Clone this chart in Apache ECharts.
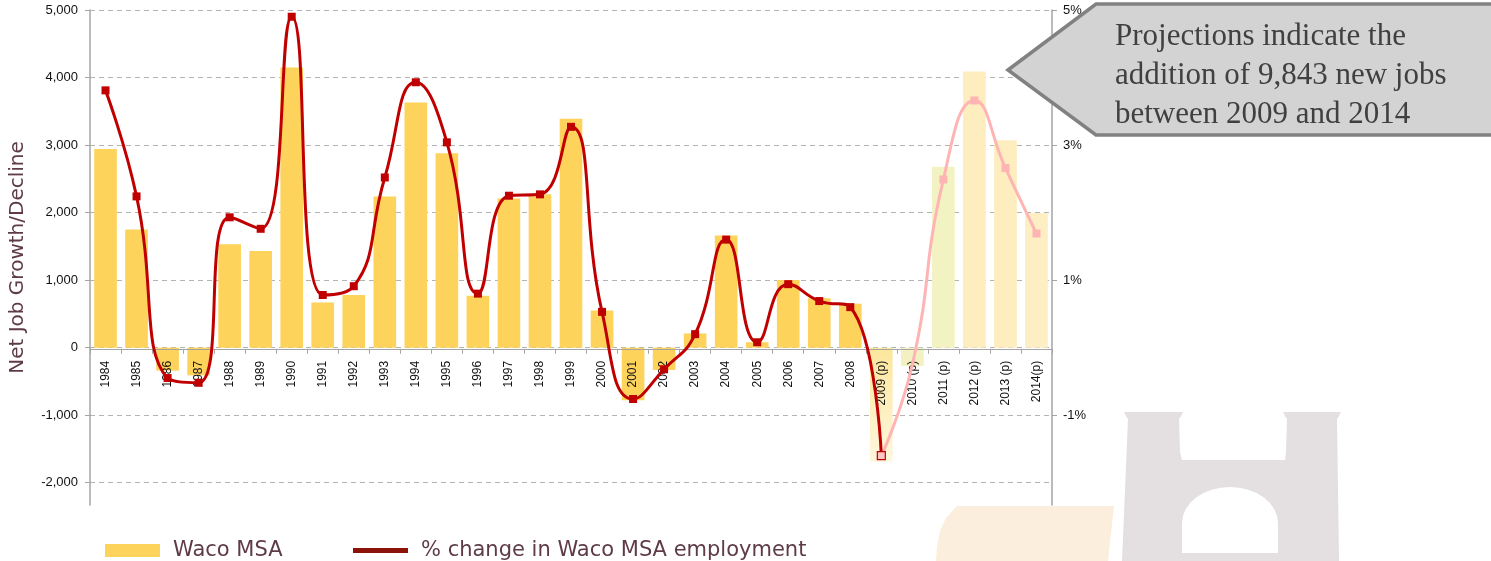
<!DOCTYPE html>
<html>
<head>
<meta charset="utf-8">
<title>Waco MSA net job growth</title>
<script src="https://cdn.jsdelivr.net/npm/echarts@6/dist/echarts.min.js"></script>
<style>
  html, body { margin: 0; padding: 0; background: #ffffff; }
  #chart { width: 1491px; height: 561px; }
</style>
</head>
<body>
<div id="chart"></div>
<script>
// Years on the category axis; "(p)" marks projected years
const years = ['1984', '1985', '1986', '1987', '1988', '1989', '1990', '1991', '1992', '1993',
  '1994', '1995', '1996', '1997', '1998', '1999', '2000', '2001', '2002', '2003',
  '2004', '2005', '2006', '2007', '2008', '2009 (p)', '2010 (p)', '2011 (p)', '2012 (p)', '2013 (p)', '2014(p)'];

// Net jobs added (or lost) in the Waco MSA each year
const netJobs = [2940, 1750, -340, -410, 1530, 1430, 4150, 670, 780, 2240,
  3630, 2880, 770, 2210, 2270, 3390, 550, -780, -330, 210,
  1660, 80, 1000, 730, 650, -1690, -270, 2680, 4090, 3070, 1995];

// Year-over-year % change in Waco MSA employment
const pctChange = [3.81, 2.24, -0.45, -0.52, 1.93, 1.76, 4.90, 0.78, 0.91, 2.52,
  3.93, 3.04, 0.80, 2.25, 2.27, 3.27, 0.53, -0.76, -0.32, 0.20,
  1.60, 0.08, 0.94, 0.69, 0.60, -1.60, -0.25, 2.49, 3.66, 2.66, 1.69];

// Tick values for the two vertical axes
const jobTicks = [-2000, -1000, 0, 1000, 2000, 3000, 4000, 5000];
const pctTicks = [-1, 1, 3, 5];
const jobRange = [-2330, 5000];
const pctRange = [-2.33, 5];

const calloutLines = ['Projections indicate the', 'addition of 9,843 new jobs', 'between 2009 and 2014'];

// ---- styling ----
const BAR = '#fed35c';
const RED = '#c00000';
const PINK = '#ffb4b4';
const AXIS = '#a5a5a5';
const TITLE_COLOR = '#5e3b46';

const firstProjected = years.indexOf('2009 (p)');
const projectedBarColors = {
  '2009 (p)': new echarts.graphic.LinearGradient(0, 0, 0, 1, [
    { offset: 0, color: '#fce69c' }, { offset: 1, color: '#fff7de' }
  ]),
  '2010 (p)': '#f3f1c1',
  '2011 (p)': '#f3f2c3',
  '2012 (p)': '#fdedbf',
  '2013 (p)': '#fdedbf',
  '2014(p)': '#fdeec3'
};
const unmarkedYears = ['2010 (p)'];

const barData = netJobs.map((v, i) => ({
  value: v,
  itemStyle: { color: projectedBarColors[years[i]] || BAR }
}));

const historyData = pctChange.map((v, i) => {
  if (i > firstProjected) return '-';
  if (i === firstProjected) {
    return { value: v, itemStyle: { color: '#ffc6c6', borderColor: RED, borderWidth: 1.2 } };
  }
  return v;
});

const projectedData = pctChange.map((v, i) => {
  if (i < firstProjected) return '-';
  const hide = i === firstProjected || unmarkedYears.includes(years[i]);
  return { value: v, symbol: hide ? 'none' : 'rect' };
});

// Outline points for the emblem's rounded arch opening
function archPoints(cx, baseY, rx, ry, sideY) {
  const pts = [[cx - rx, baseY], [cx - rx, sideY]];
  for (let k = 0; k <= 16; k++) {
    const t = Math.PI - (Math.PI * k) / 16;
    pts.push([cx + rx * Math.cos(t), sideY - ry * Math.sin(t)]);
  }
  pts.push([cx + rx, baseY]);
  return pts;
}

const chart = echarts.init(document.getElementById('chart'), null, { renderer: 'canvas' });

const fontSans = 'Liberation Sans, Arial, sans-serif';
const fontTitle = 'DejaVu Sans, sans-serif';
const legendText = { fontFamily: fontTitle, fontSize: 21, color: TITLE_COLOR, padding: [0, 0, 0, 8] };

chart.setOption({
  animation: false,
  backgroundColor: '#ffffff',
  grid: { left: 83, right: 439, top: 10, bottom: 56, containLabel: false },
  legend: [
    {
      left: 100, top: 535,
      itemWidth: 55, itemHeight: 13,
      data: [{ name: 'Waco MSA', icon: 'rect' }],
      textStyle: legendText,
      selectedMode: false
    },
    {
      left: 348, top: 535,
      itemWidth: 55, itemHeight: 13,
      data: [{ name: '% change in Waco MSA employment', icon: 'path://M0,0 H55 V5 H0 Z', itemStyle: { color: '#8c1209' } }],
      textStyle: legendText,
      selectedMode: false
    }
  ],
  xAxis: {
    type: 'category',
    data: years,
    boundaryGap: true,
    z: 3,
    axisLine: { show: true, onZero: false, lineStyle: { color: AXIS, width: 1.2 } },
    axisTick: { show: true, length: 5, lineStyle: { color: AXIS } },
    axisLabel: { interval: 0, rotate: 90, margin: 12, fontFamily: fontSans, fontSize: 12, color: '#111111' },
    splitLine: { show: false }
  },
  yAxis: [
    {
      type: 'value',
      min: jobRange[0], max: jobRange[1],
      name: 'Net Job Growth/Decline',
      nameLocation: 'middle',
      nameGap: 62,
      nameTextStyle: { fontFamily: fontTitle, fontSize: 20, color: TITLE_COLOR },
      axisLine: { show: true, lineStyle: { color: AXIS, width: 1.5 } },
      axisTick: { show: true, length: 5, customValues: jobTicks, lineStyle: { color: AXIS } },
      axisLabel: {
        customValues: jobTicks, margin: 12,
        fontFamily: fontSans, fontSize: 13, color: '#111111',
        formatter: v => Number(v).toLocaleString('en-US')
      },
      splitLine: { show: true, lineStyle: { color: '#b4b4b4', type: [5, 4], width: 1 } }
    },
    {
      type: 'value',
      min: pctRange[0], max: pctRange[1],
      position: 'right',
      axisLine: { show: true, lineStyle: { color: AXIS, width: 1.5 } },
      axisTick: { show: true, length: 5, customValues: pctTicks, lineStyle: { color: AXIS } },
      axisLabel: {
        customValues: pctTicks, margin: 11,
        fontFamily: fontSans, fontSize: 13, color: '#111111',
        formatter: v => v + '%'
      },
      splitLine: { show: false }
    }
  ],
  series: [
    {
      name: 'Waco MSA',
      type: 'bar',
      yAxisIndex: 0,
      barCategoryGap: '27%',
      itemStyle: { color: BAR },
      data: barData,
      z: 2
    },
    {
      name: 'Projected % change',
      type: 'line',
      yAxisIndex: 1,
      smooth: true,
      symbol: 'rect',
      symbolSize: 8,
      lineStyle: { color: PINK, width: 3 },
      itemStyle: { color: PINK },
      data: projectedData,
      z: 4
    },
    {
      name: '% change in Waco MSA employment',
      type: 'line',
      yAxisIndex: 1,
      smooth: true,
      symbol: 'rect',
      symbolSize: 8,
      lineStyle: { color: RED, width: 3 },
      itemStyle: { color: RED },
      data: historyData,
      z: 5
    }
  ],
  graphic: [
    // callout arrow
    {
      type: 'polygon',
      z: 100,
      shape: { points: [[1008, 70], [1096, 4], [1500, 4], [1500, 135], [1096, 135]] },
      style: { fill: '#d3d3d3', stroke: '#818181', lineWidth: 3.5, lineJoin: 'miter' }
    },
    {
      type: 'text',
      z: 101,
      x: 1115, y: 17,
      style: {
        text: calloutLines.join('\n'),
        font: '31px "Liberation Serif", "DejaVu Serif", serif',
        lineHeight: 39,
        fill: '#404040'
      }
    },
    // emblem in the lower right corner
    {
      type: 'polygon',
      z: 0,
      shape: {
        points: [[957, 506], [1114, 506], [1108, 561], [936, 561], [937, 546], [940, 531], [946, 518]]
      },
      style: { fill: '#fbeedc' }
    },
    {
      type: 'polygon',
      z: 0,
      shape: {
        points: [[1124, 412], [1183, 412], [1181, 416], [1179, 419], [1180, 452], [1182, 460],
          [1285, 460], [1286, 452], [1287, 419], [1285, 416], [1283, 412], [1341, 412],
          [1339, 416], [1337, 419], [1339, 561], [1122, 561], [1128, 419], [1126, 416]]
      },
      style: { fill: '#e4dfe1' }
    },
    {
      type: 'polygon',
      z: 1,
      shape: { points: archPoints(1230, 553, 48, 36, 523) },
      style: { fill: '#ffffff' }
    }
  ]
});

// Put the category axis (with its labels) on the zero line of the job axis
const zeroY = chart.convertToPixel({ yAxisIndex: 0 }, 0);
const bottomY = chart.convertToPixel({ yAxisIndex: 0 }, jobRange[0]);
chart.setOption({ xAxis: { offset: zeroY - bottomY } });
</script>
</body>
</html>
